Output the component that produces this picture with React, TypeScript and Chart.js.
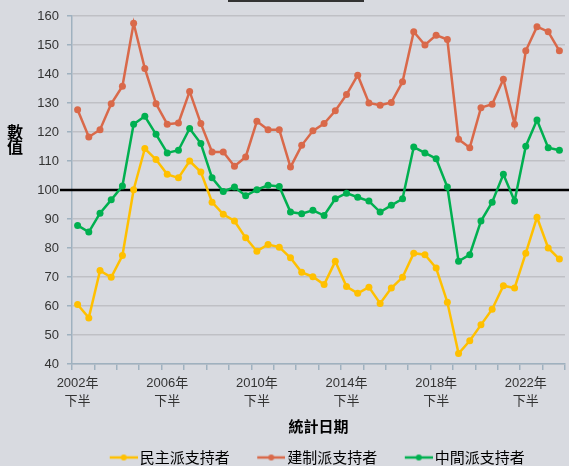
import React, { useEffect, useRef } from 'react';
import { Chart, registerables } from 'chart.js';

Chart.register(...registerables);

const periods: string[] = [
  '2002年下半', '2003年上半', '2003年下半', '2004年上半', '2004年下半', '2005年上半', '2005年下半', '2006年上半',
  '2006年下半', '2007年上半', '2007年下半', '2008年上半', '2008年下半', '2009年上半', '2009年下半', '2010年上半',
  '2010年下半', '2011年上半', '2011年下半', '2012年上半', '2012年下半', '2013年上半', '2013年下半', '2014年上半',
  '2014年下半', '2015年上半', '2015年下半', '2016年上半', '2016年下半', '2017年上半', '2017年下半', '2018年上半',
  '2018年下半', '2019年上半', '2019年下半', '2020年上半', '2020年下半', '2021年上半', '2021年下半', '2022年上半',
  '2022年下半', '2023年上半', '2023年下半', '2024年上半',
];

const democrats: number[] = [
  60.5, 55.9, 72.2, 69.9, 77.4, 100.1, 114.3, 110.5, 105.4, 104.2, 110.0, 106.2, 95.8, 91.6, 89.3, 83.5,
  78.9, 81.2, 80.3, 76.6, 71.6, 70.1, 67.4, 75.4, 66.7, 64.4, 66.5, 60.9, 66.2, 69.9, 78.2, 77.7,
  73.1, 61.3, 43.6, 48.0, 53.5, 58.9, 67.0, 66.2, 78.2, 90.6, 80.0, 76.2,
];

const establishment: number[] = [
  127.7, 118.3, 120.8, 129.7, 135.8, 157.5, 141.9, 129.7, 122.7, 123.1, 134.0, 122.9, 113.1, 113.1, 108.2, 111.4,
  123.7, 120.8, 120.8, 107.9, 115.4, 120.4, 122.9, 127.3, 132.9, 139.6, 130.0, 129.2, 130.2, 137.3, 154.6, 150.0,
  153.4, 151.9, 117.5, 114.6, 128.4, 129.6, 138.2, 122.7, 148.0, 156.3, 154.6, 148.0,
];

const centrists: number[] = [
  87.8, 85.5, 92.0, 96.6, 101.4, 122.7, 125.4, 119.2, 112.8, 113.7, 121.2, 116.0, 104.2, 99.5, 101.0, 98.0,
  100.1, 101.6, 101.2, 92.4, 91.8, 93.0, 91.2, 97.0, 98.9, 97.5, 96.2, 92.4, 94.7, 97.0, 114.8, 112.8,
  110.8, 101.0, 75.4, 77.7, 89.3, 95.8, 105.4, 96.2, 115.1, 124.1, 114.6, 113.7,
];

const seriesNames: string[] = ['民主派支持者', '建制派支持者', '中間派支持者'];
const seriesColors: string[] = ['#ffc000', '#d9694a', '#00b050'];
const yTitleChars: string[] = ['數', '值'];
const xTitle = '統計日期';
const baselineValue = 100;

function makeMarker(color: string): HTMLCanvasElement {
  const c = document.createElement('canvas');
  c.width = 31;
  c.height = 10;
  const g = c.getContext('2d')!;
  g.strokeStyle = color;
  g.lineWidth = 2.5;
  g.beginPath();
  g.moveTo(3, 5);
  g.lineTo(31, 5);
  g.stroke();
  g.fillStyle = color;
  g.beginPath();
  g.arc(17, 5, 3, 0, Math.PI * 2);
  g.fill();
  return c;
}

const decorPlugin = {
  id: 'decor',
  beforeDatasetsDraw(chart: any) {
    const ctx = chart.ctx;
    const y = chart.scales.y.getPixelForValue(baselineValue);
    ctx.save();
    ctx.strokeStyle = '#000';
    ctx.lineWidth = 2.5;
    ctx.beginPath();
    ctx.moveTo(chart.chartArea.left - 12, y);
    ctx.lineTo(chart.width, y);
    ctx.stroke();
    ctx.restore();
  },
  afterDraw(chart: any) {
    const ctx = chart.ctx;
    ctx.save();
    ctx.fillStyle = '#000';
    ctx.font = 'bold 16px "Noto Sans CJK TC"';
    ctx.textAlign = 'center';
    ctx.textBaseline = 'middle';
    yTitleChars.forEach((ch, i) => ctx.fillText(ch, 15, 131.5 + i * 15.5));
    ctx.strokeStyle = '#333';
    ctx.lineWidth = 2;
    ctx.strokeRect(229, -10, 134, 11);
    ctx.restore();
  },
};

export default function App() {
  const ref = useRef<HTMLCanvasElement | null>(null);

  useEffect(() => {
    if (!ref.current) return;
    const markers = seriesColors.map(makeMarker);
    const values = [democrats, establishment, centrists];
    const axisColor = '#9fb1bf';
    const chart = new Chart(ref.current, {
      type: 'line',
      data: {
        labels: periods,
        datasets: seriesNames.map((name, i) => ({
          label: name,
          data: values[i],
          borderColor: seriesColors[i],
          backgroundColor: seriesColors[i],
          pointBackgroundColor: seriesColors[i],
          pointBorderColor: seriesColors[i],
          pointBorderWidth: 0,
          pointRadius: 3.5,
          borderWidth: 2.5,
          tension: 0,
          fill: false,
        })),
      },
      options: {
        animation: false,
        responsive: true,
        maintainAspectRatio: false,
        layout: { padding: { top: 16, right: 2, left: 0, bottom: 1 } },
        plugins: {
          tooltip: { enabled: false },
          legend: {
            position: 'bottom',
            fullSize: false,
            labels: {
              usePointStyle: true,
              pointStyleWidth: 20,
              boxHeight: 10,
              padding: 30,
              color: '#000',
              font: { size: 15, family: '"Noto Sans CJK TC"' },
              generateLabels: (c: any) => {
                const base = (Chart.defaults as any).plugins.legend.labels.generateLabels(c);
                return base.map((l: any, i: number) => ({ ...l, pointStyle: markers[i] }));
              },
            },
          },
        },
        scales: {
          x: {
            offset: true,
            afterFit: (s: any) => { s.height = 56; },
            grid: {
              offset: true,
              drawOnChartArea: false,
              drawTicks: true,
              tickLength: 6,
              lineWidth: 1.5,
              tickColor: (c: any) => (c.type !== 'tick' || c.index % 2 === 0 ? axisColor : 'rgba(0,0,0,0)'),
            },
            border: { color: axisColor, width: 1.5 },
            ticks: {
              autoSkip: false,
              maxRotation: 0,
              minRotation: 0,
              padding: 4,
              color: '#333',
              font: { size: 13, family: '"Liberation Sans", "Noto Sans CJK TC"', lineHeight: 1.42 },
              callback: (_v: any, idx: number) => {
                if (idx % 8 !== 0) return '';
                const p = periods[idx];
                const k = p.indexOf('年');
                return [p.slice(0, k + 1), p.slice(k + 1)];
              },
            },
            title: {
              display: true,
              text: xTitle,
              color: '#000',
              font: { size: 15, weight: 'bold', family: '"Noto Sans CJK TC"' },
              padding: { top: 0, bottom: -15 },
            },
          },
          y: {
            min: 40,
            max: 160,
            afterFit: (s: any) => { s.width = 72; },
            grid: {
              color: '#bfc0c5',
              lineWidth: 1.5,
              tickLength: 5,
              tickColor: axisColor,
            },
            border: { color: axisColor, width: 1.5 },
            ticks: {
              stepSize: 10,
              padding: 8,
              color: '#333',
              font: { size: 13, family: '"Liberation Sans"' },
            },
          },
        },
      },
      plugins: [decorPlugin],
    } as any);
    return () => chart.destroy();
  }, []);

  return (
    <div style={{ position: 'fixed', left: 0, top: 0, width: 569, height: 476, background: '#d8dae0' }}>
      <canvas ref={ref} />
    </div>
  );
}
